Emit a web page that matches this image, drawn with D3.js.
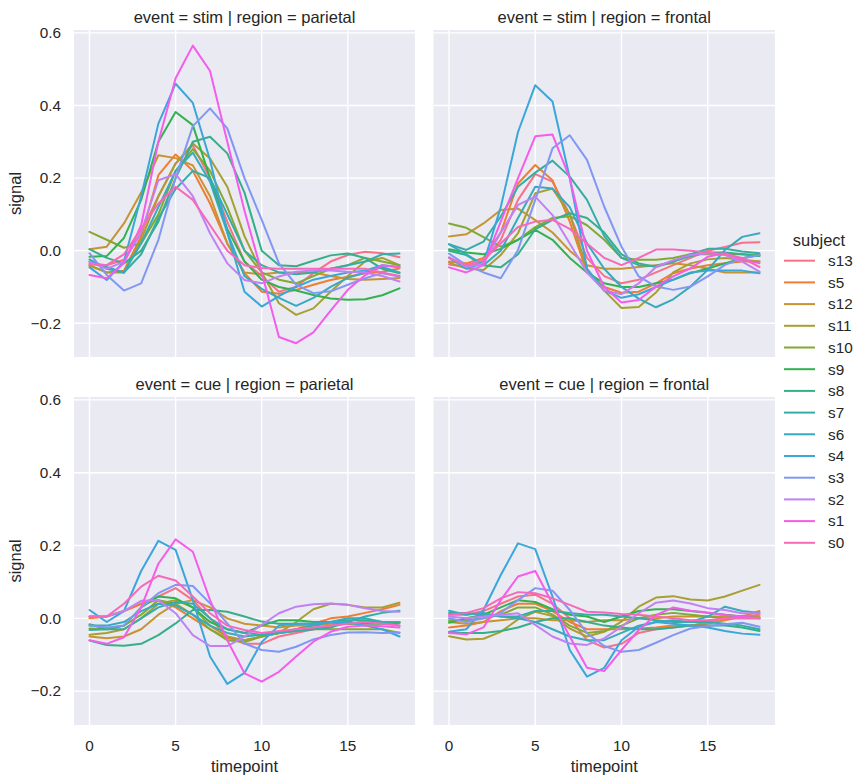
<!DOCTYPE html>
<html>
<head>
<meta charset="utf-8">
<script src="https://cdn.jsdelivr.net/npm/d3@7"></script>
<style>
  body { margin: 0; background: #fff; }
  svg text { font-family: "Liberation Sans", Arial, sans-serif; fill: #262626; }
</style>
</head>
<body>
<svg id="chart" width="865" height="784"></svg>
<script>
// subjects in hue order (legend order)
const subjects = ["s13", "s5", "s12", "s11", "s10", "s9", "s8", "s7", "s6", "s4", "s3", "s2", "s1", "s0"];
const timepoints = d3.range(0, 19);
const xTicks = [0, 5, 10, 15];
const yTicks = [-0.2, 0.0, 0.2, 0.4, 0.6];

// signal per subject (same order as subjects), timepoints 0..18
const stimParietal = [
  [-0.035,-0.04,-0.025,0.05,0.15,0.24,0.29,0.2,0.08,-0.03,-0.07,-0.113,-0.099,-0.062,-0.03,-0.012,-0.003,-0.007,-0.018],
  [-0.042,-0.06,-0.055,0.04,0.208,0.265,0.22,0.13,0.02,-0.062,-0.113,-0.119,-0.108,-0.094,-0.081,-0.072,-0.062,-0.058,-0.049],
  [0.004,0.011,0.075,0.16,0.263,0.255,0.235,0.15,0.02,-0.06,-0.065,-0.06,-0.06,-0.06,-0.07,-0.078,-0.08,-0.078,-0.075],
  [-0.04,-0.06,-0.06,0.03,0.15,0.24,0.295,0.254,0.176,0.04,-0.06,-0.145,-0.177,-0.159,-0.113,-0.07,-0.03,-0.02,-0.04],
  [0.052,0.03,0.008,0.02,0.1,0.22,0.28,0.22,0.12,0.0,-0.06,-0.08,-0.09,-0.07,-0.05,-0.04,-0.02,-0.03,-0.04],
  [-0.017,-0.015,0.035,0.14,0.3,0.382,0.346,0.2,0.06,-0.03,-0.08,-0.1,-0.11,-0.122,-0.132,-0.135,-0.134,-0.123,-0.104],
  [0.004,-0.02,-0.035,0.0,0.08,0.2,0.3,0.314,0.268,0.16,0.0,-0.04,-0.043,-0.028,-0.013,-0.008,-0.02,-0.05,-0.062],
  [-0.024,-0.05,-0.06,-0.01,0.09,0.17,0.22,0.2,0.1,0.0,-0.04,-0.06,-0.065,-0.06,-0.05,-0.04,-0.03,-0.01,-0.008],
  [-0.03,-0.045,-0.06,0.02,0.12,0.22,0.27,0.19,0.05,-0.07,-0.105,-0.13,-0.152,-0.13,-0.1,-0.075,-0.06,-0.045,-0.06],
  [-0.046,-0.081,-0.03,0.15,0.35,0.46,0.407,0.25,0.05,-0.113,-0.154,-0.125,-0.1,-0.08,-0.07,-0.06,-0.055,-0.04,-0.045],
  [-0.007,-0.067,-0.11,-0.09,0.03,0.2,0.343,0.392,0.337,0.2,0.085,-0.035,-0.094,-0.117,-0.112,-0.094,-0.076,-0.062,-0.071],
  [-0.03,-0.05,-0.03,0.05,0.194,0.211,0.15,0.048,-0.035,-0.081,-0.09,-0.071,-0.058,-0.055,-0.055,-0.058,-0.06,-0.07,-0.085],
  [-0.067,-0.076,-0.035,0.07,0.3,0.475,0.565,0.495,0.3,0.11,-0.06,-0.238,-0.255,-0.225,-0.165,-0.108,-0.068,-0.04,-0.046],
  [-0.038,-0.04,-0.01,0.06,0.13,0.176,0.14,0.07,0.0,-0.04,-0.048,-0.05,-0.05,-0.05,-0.05,-0.05,-0.05,-0.06,-0.07]
];

const stimFrontal = [
  [-0.038,-0.045,-0.03,0.03,0.14,0.211,0.19,0.1,-0.02,-0.07,-0.09,-0.08,-0.06,-0.04,-0.02,0.0,0.01,0.022,0.023],
  [-0.03,-0.035,-0.02,0.05,0.185,0.236,0.194,0.08,-0.06,-0.1,-0.116,-0.113,-0.09,-0.062,-0.049,-0.04,-0.035,-0.03,-0.03],
  [0.039,0.045,0.075,0.112,0.116,0.084,0.05,0.0,-0.04,-0.05,-0.05,-0.045,-0.04,-0.035,-0.04,-0.05,-0.06,-0.06,-0.06],
  [-0.033,-0.049,-0.053,-0.012,0.048,0.158,0.171,0.1,-0.05,-0.11,-0.158,-0.155,-0.115,-0.06,-0.035,-0.024,-0.02,-0.025,-0.03],
  [0.075,0.063,0.037,0.011,0.03,0.065,0.09,0.095,0.07,0.03,-0.02,-0.025,-0.025,-0.02,-0.01,-0.01,-0.01,-0.01,-0.012],
  [0.004,-0.005,-0.01,0.005,0.03,0.057,0.03,-0.02,-0.06,-0.09,-0.1,-0.1,-0.09,-0.08,-0.062,-0.049,-0.035,-0.021,-0.012],
  [0.0,-0.012,-0.04,-0.046,-0.01,0.059,0.085,0.103,0.09,0.05,-0.01,-0.035,-0.045,-0.03,-0.015,-0.005,-0.005,-0.01,-0.015],
  [0.018,0.002,0.025,0.094,0.176,0.215,0.248,0.204,0.14,0.04,-0.02,-0.04,-0.042,-0.03,-0.01,0.005,0.005,-0.002,-0.007],
  [0.017,-0.01,-0.04,0.0,0.09,0.176,0.171,0.12,0.02,-0.05,-0.1,-0.132,-0.156,-0.134,-0.099,-0.053,0.002,0.038,0.048],
  [-0.02,-0.049,-0.035,0.12,0.327,0.456,0.411,0.2,-0.05,-0.11,-0.13,-0.12,-0.1,-0.08,-0.06,-0.055,-0.055,-0.055,-0.062],
  [-0.008,-0.04,-0.06,-0.076,0.002,0.14,0.282,0.318,0.25,0.121,0.011,-0.071,-0.099,-0.108,-0.099,-0.071,-0.039,-0.021,-0.012],
  [-0.018,-0.045,-0.035,0.05,0.126,0.149,0.098,0.02,-0.06,-0.11,-0.12,-0.09,-0.045,-0.026,-0.012,-0.007,-0.012,-0.03,-0.058],
  [-0.046,-0.06,-0.04,0.08,0.2,0.315,0.32,0.2,0.0,-0.1,-0.143,-0.136,-0.099,-0.071,-0.049,-0.017,-0.007,-0.024,-0.035],
  [-0.02,-0.04,-0.025,0.02,0.065,0.08,0.085,0.06,0.02,-0.02,-0.04,-0.02,0.003,0.003,0.0,-0.005,-0.01,-0.02,-0.045]
];

const cueParietal = [
  [0.005,0.005,0.02,0.04,0.06,0.083,0.05,0.0,-0.05,-0.07,-0.07,-0.05,-0.04,-0.03,-0.02,-0.015,-0.01,-0.01,-0.01],
  [0.0,0.005,0.02,0.04,0.05,0.03,0.0,-0.03,-0.055,-0.06,-0.05,-0.04,-0.03,-0.015,0.0,0.005,0.015,0.025,0.037],
  [-0.05,-0.055,-0.05,-0.03,0.01,0.04,0.05,0.03,0.0,-0.015,-0.02,-0.025,-0.02,-0.02,-0.015,-0.015,-0.01,-0.01,-0.01],
  [-0.045,-0.04,-0.03,0.0,0.04,0.05,0.03,-0.02,-0.05,-0.06,-0.05,-0.04,-0.01,0.025,0.04,0.037,0.03,0.03,0.043],
  [-0.028,-0.03,-0.02,0.01,0.05,0.04,0.01,-0.03,-0.06,-0.065,-0.05,-0.04,-0.035,-0.03,-0.03,-0.03,-0.03,-0.03,-0.04],
  [-0.016,-0.03,-0.02,0.03,0.06,0.055,0.03,-0.01,-0.03,-0.04,-0.02,-0.005,-0.005,-0.01,-0.01,-0.015,-0.015,-0.015,-0.012],
  [-0.061,-0.073,-0.075,-0.07,-0.046,-0.014,0.023,0.023,0.018,0.005,-0.009,-0.015,-0.015,-0.015,-0.01,-0.005,-0.005,-0.01,-0.012],
  [-0.032,-0.03,-0.03,0.0,0.03,0.045,0.04,0.0,-0.03,-0.04,-0.045,-0.04,-0.035,-0.03,-0.025,-0.01,0.005,0.015,0.021],
  [-0.02,-0.02,-0.01,0.02,0.04,0.035,0.01,-0.02,-0.04,-0.05,-0.045,-0.04,-0.03,-0.02,-0.01,0.0,0.0,-0.01,-0.02],
  [0.023,-0.01,0.02,0.13,0.213,0.188,0.05,-0.105,-0.18,-0.15,-0.065,-0.02,-0.015,-0.015,-0.01,-0.01,-0.02,-0.03,-0.05],
  [-0.02,-0.025,-0.02,0.03,0.069,0.092,0.089,0.041,-0.014,-0.069,-0.087,-0.092,-0.078,-0.058,-0.046,-0.039,-0.038,-0.04,-0.039],
  [0.005,0.005,0.02,0.048,0.05,0.014,-0.046,-0.076,-0.076,-0.05,-0.018,0.014,0.032,0.039,0.041,0.037,0.028,0.02,0.018],
  [-0.06,-0.07,-0.052,0.03,0.15,0.217,0.183,0.05,-0.06,-0.151,-0.174,-0.147,-0.105,-0.064,-0.037,-0.023,-0.02,-0.022,-0.025],
  [0.005,0.005,0.04,0.087,0.117,0.104,0.06,0.014,-0.02,-0.032,-0.04,-0.035,-0.03,-0.025,-0.02,-0.015,-0.01,-0.015,-0.02]
];

const cueFrontal = [
  [0.01,0.01,0.02,0.04,0.06,0.065,0.04,0.0,-0.06,-0.08,-0.07,-0.04,-0.03,-0.025,-0.02,-0.01,0.0,0.005,0.01],
  [-0.025,-0.02,-0.01,0.02,0.04,0.04,0.02,-0.01,-0.03,-0.03,-0.03,-0.028,-0.025,-0.02,-0.02,-0.015,-0.005,0.005,0.02],
  [-0.01,-0.015,-0.01,-0.005,0.0,0.0,-0.005,-0.005,-0.01,-0.005,-0.005,0.0,0.0,0.005,0.005,0.005,0.005,0.005,0.005],
  [-0.049,-0.058,-0.056,-0.037,-0.003,0.018,0.006,-0.028,-0.05,-0.037,-0.009,0.032,0.057,0.061,0.052,0.049,0.06,0.076,0.092],
  [-0.005,-0.005,0.0,0.01,0.03,0.03,0.01,-0.02,-0.04,-0.035,-0.02,0.0,0.01,0.015,0.01,0.005,0.0,0.0,0.0],
  [-0.012,0.0,0.01,0.03,0.05,0.045,0.025,0.01,0.005,-0.01,0.005,0.02,0.025,0.025,0.02,0.015,0.01,0.005,0.0],
  [-0.04,-0.04,-0.04,-0.035,-0.025,-0.01,0.0,0.0,-0.01,-0.02,-0.025,-0.03,-0.03,-0.025,-0.02,-0.02,-0.02,-0.025,-0.035],
  [0.015,0.015,0.01,0.005,0.005,0.02,0.02,0.015,0.01,0.01,0.005,0.0,-0.005,-0.01,-0.01,-0.01,-0.015,-0.02,-0.03],
  [0.021,0.01,0.015,0.005,0.0,-0.01,-0.03,-0.05,-0.06,-0.06,-0.04,-0.02,-0.01,-0.005,-0.01,0.005,0.032,0.02,0.015],
  [-0.037,-0.03,0.023,0.119,0.206,0.19,0.06,-0.087,-0.16,-0.136,-0.06,-0.023,-0.01,-0.015,-0.02,-0.025,-0.035,-0.042,-0.045],
  [0.0,-0.01,0.0,0.015,0.05,0.083,0.076,0.023,-0.041,-0.076,-0.092,-0.087,-0.067,-0.046,-0.028,-0.021,-0.016,-0.012,-0.023],
  [0.005,0.0,0.005,0.009,0.014,-0.018,-0.05,-0.069,-0.073,-0.055,-0.023,0.014,0.043,0.049,0.041,0.028,0.023,0.014,0.014],
  [-0.04,-0.044,-0.025,0.05,0.115,0.13,0.04,-0.05,-0.136,-0.145,-0.087,-0.032,0.009,0.03,0.021,0.016,0.009,0.005,0.0],
  [0.01,0.015,0.028,0.055,0.072,0.069,0.055,0.037,0.018,0.016,0.012,0.01,0.005,0.0,-0.005,-0.005,0.0,0.0,0.0]
];

// --- husl palette (same maths as seaborn's husl_palette) ---
const M = [[3.2406, -1.5372, -0.4986], [-0.9689, 1.8758, 0.0415], [0.0557, -0.2040, 1.0570]];
const refU = 0.19784, refV = 0.46834;

function maxChroma(L, H) {
  const hr = H / 360 * 2 * Math.PI;
  const sinH = Math.sin(hr), cosH = Math.cos(hr);
  const sub1 = Math.pow(L + 16, 3) / 1560896;
  const sub2 = sub1 > 0.008856 ? sub1 : L / 903.3;
  let result = Infinity;
  M.forEach(([m1, m2, m3]) => {
    const top = (0.99915 * m1 + 1.05122 * m2 + 1.14460 * m3) * sub2;
    const rb = 0.86330 * m3 - 0.17266 * m2;
    const lb = 0.12949 * m3 - 0.38848 * m1;
    const bottom = (rb * sinH + lb * cosH) * sub2;
    [0, 1].forEach(t => {
      const C = L * (top - 1.05122 * t) / (bottom + 0.17266 * sinH * t);
      if (C > 0 && C < result) result = C;
    });
  });
  return result;
}

function huslToHex(h, s, l) {
  const c = maxChroma(l, h) / 100 * s;
  const hr = h / 360 * 2 * Math.PI;
  const u = Math.cos(hr) * c, v = Math.sin(hr) * c;
  const t = (l + 16) / 116;
  const Y = Math.pow(t, 3) > 0.008856 ? Math.pow(t, 3) : (116 * t - 16) / 903.3;
  const vu = u / (13 * l) + refU, vv = v / (13 * l) + refV;
  const X = 0 - (9 * Y * vu) / ((vu - 4) * vv - vu * vv);
  const Z = (9 * Y - 15 * vv * Y - vv * X) / (3 * vv);
  const rgb = M.map(r => {
    const lin = r[0] * X + r[1] * Y + r[2] * Z;
    const cc = lin <= 0.0031308 ? 12.92 * lin : 1.055 * Math.pow(lin, 1 / 2.4) - 0.055;
    return Math.round(Math.max(0, Math.min(1, cc)) * 255);
  });
  return d3.rgb(...rgb).formatHex();
}

const palette = subjects.map((s, i) => {
  const h = ((i / subjects.length + 0.01) % 1) * 359;
  return huslToHex(h, 0.9 * 99, 0.65 * 99);
});
const color = d3.scaleOrdinal().domain(subjects).range(palette);

// --- layout ---
const svg = d3.select("#chart");
const panels = [
  { title: "event = stim | region = parietal", data: stimParietal, x0: 74, x1: 415, y0: 30, y1: 357, left: true, bottom: false },
  { title: "event = stim | region = frontal", data: stimFrontal, x0: 433.5, x1: 775, y0: 30, y1: 357, left: false, bottom: false },
  { title: "event = cue | region = parietal", data: cueParietal, x0: 74, x1: 415, y0: 397, y1: 725, left: true, bottom: true },
  { title: "event = cue | region = frontal", data: cueFrontal, x0: 433.5, x1: 775, y0: 397, y1: 725, left: false, bottom: true }
];

const fmt = v => (v < 0 ? "\u2212" : "") + Math.abs(v).toFixed(1);

panels.forEach(p => {
  const x = d3.scaleLinear().domain([-0.9, 18.9]).range([p.x0, p.x1]);
  const y = d3.scaleLinear().domain([-0.293, 0.608]).range([p.y1, p.y0]);
  const g = svg.append("g");

  g.append("rect")
    .attr("x", p.x0).attr("y", p.y0)
    .attr("width", p.x1 - p.x0).attr("height", p.y1 - p.y0)
    .attr("fill", "#eaeaf2");

  // grid
  g.selectAll(".gx").data(xTicks).enter().append("line")
    .attr("x1", d => x(d)).attr("x2", d => x(d))
    .attr("y1", p.y0).attr("y2", p.y1)
    .attr("stroke", "#fff").attr("stroke-width", 1.4);
  g.selectAll(".gy").data(yTicks).enter().append("line")
    .attr("x1", p.x0).attr("x2", p.x1)
    .attr("y1", d => y(d)).attr("y2", d => y(d))
    .attr("stroke", "#fff").attr("stroke-width", 1.4);

  // lines
  const line = d3.line().x((d, i) => x(timepoints[i])).y(d => y(d));
  p.data.forEach((vals, i) => {
    g.append("path")
      .datum(vals)
      .attr("d", line)
      .attr("fill", "none")
      .attr("stroke", color(subjects[i]))
      .attr("stroke-width", 2)
      .attr("stroke-linejoin", "round")
      .attr("stroke-linecap", "round");
  });

  // title
  g.append("text")
    .attr("x", (p.x0 + p.x1) / 2).attr("y", p.y0 - 7)
    .attr("text-anchor", "middle")
    .style("font-size", "16.5px")
    .text(p.title);

  if (p.left) {
    g.selectAll(".ty").data(yTicks).enter().append("text")
      .attr("x", p.x0 - 13).attr("y", d => y(d) + 5.3)
      .attr("text-anchor", "end")
      .style("font-size", "15.3px")
      .text(fmt);
    g.append("text")
      .attr("transform", `translate(21,${(p.y0 + p.y1) / 2}) rotate(-90)`)
      .attr("text-anchor", "middle")
      .style("font-size", "16.5px")
      .text("signal");
  }
  if (p.bottom) {
    g.selectAll(".tx").data(xTicks).enter().append("text")
      .attr("x", d => x(d)).attr("y", p.y1 + 26)
      .attr("text-anchor", "middle")
      .style("font-size", "15.3px")
      .text(d => d);
    g.append("text")
      .attr("x", (p.x0 + p.x1) / 2).attr("y", p.y1 + 47)
      .attr("text-anchor", "middle")
      .style("font-size", "16.5px")
      .text("timepoint");
  }
});

// legend
const leg = svg.append("g");
leg.append("text")
  .attr("x", 819).attr("y", 246)
  .attr("text-anchor", "middle")
  .style("font-size", "16.5px")
  .text("subject");
subjects.forEach((s, i) => {
  const cy = 260.7 + i * 21.7;
  leg.append("line")
    .attr("x1", 784).attr("x2", 815)
    .attr("y1", cy).attr("y2", cy)
    .attr("stroke", color(s)).attr("stroke-width", 2);
  leg.append("text")
    .attr("x", 828).attr("y", cy + 5.3)
    .style("font-size", "15.3px")
    .text(s);
});
</script>
</body>
</html>
